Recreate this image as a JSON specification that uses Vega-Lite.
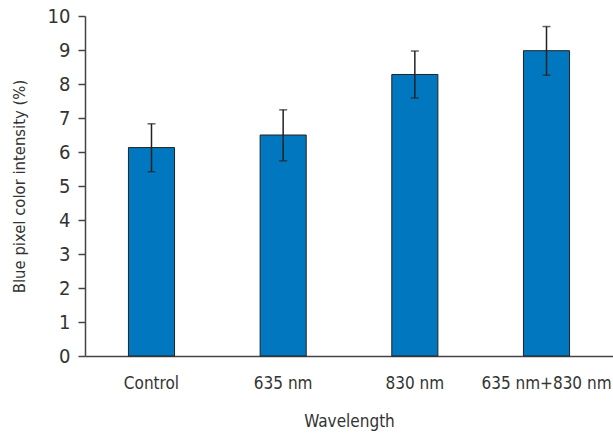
{
  "$schema": "https://vega.github.io/schema/vega-lite/v6.json",
  "width": 528,
  "height": 340,
  "autosize": {"type": "none"},
  "padding": {"left": 85, "top": 16, "right": 0, "bottom": 77},
  "background": "white",
  "config": {
    "view": {"stroke": null},
    "font": "DejaVu Sans Condensed",
    "axis": {"grid": false, "domainColor": "#444", "tickColor": "#444", "labelColor": "#333", "titleColor": "#333", "labelFont": "DejaVu Sans Condensed", "titleFont": "DejaVu Sans Condensed", "titleFontWeight": "normal", "domainWidth": 1.5},
    "axisY": {"tickCount": 10, "tickSize": 7, "tickWidth": 1.5, "labelFontSize": 20, "labelPadding": 8, "titleFontSize": 16.5, "titlePadding": 20, "labelOverlap": false},
    "axisX": {"ticks": false, "labelAngle": 0, "labelPadding": 19, "labelFontSize": 17, "titleFontSize": 17, "titlePadding": 22}
  },
  "data": {
    "values": [
      {"group": "Control", "mean": 6.13, "lo": 5.42, "hi": 6.83},
      {"group": "635 nm", "mean": 6.5, "lo": 5.74, "hi": 7.24},
      {"group": "830 nm", "mean": 8.28, "lo": 7.59, "hi": 8.97},
      {"group": "635 nm+830 nm", "mean": 8.98, "lo": 8.26, "hi": 9.69}
    ]
  },
  "encoding": {
    "x": {
      "field": "group", "type": "nominal", "sort": null,
      "scale": {"paddingInner": 0.65, "paddingOuter": 0.33},
      "title": "Wavelength"
    }
  },
  "layer": [
    {
      "mark": {"type": "bar", "color": "#0077BE", "stroke": "#222", "strokeWidth": 1},
      "encoding": {
        "y": {
          "field": "mean", "type": "quantitative",
          "scale": {"domain": [0, 10], "nice": false},
          "title": "Blue pixel color intensity (%)"
        }
      }
    },
    {
      "mark": {"type": "rule", "color": "#222", "strokeWidth": 1.5},
      "encoding": {"y": {"field": "lo", "type": "quantitative", "title": "Blue pixel color intensity (%)"}, "y2": {"field": "hi"}}
    },
    {
      "mark": {"type": "tick", "color": "#222", "thickness": 1.5, "size": 8},
      "encoding": {"y": {"field": "lo", "type": "quantitative", "title": "Blue pixel color intensity (%)"}}
    },
    {
      "mark": {"type": "tick", "color": "#222", "thickness": 1.5, "size": 8},
      "encoding": {"y": {"field": "hi", "type": "quantitative", "title": "Blue pixel color intensity (%)"}}
    }
  ]
}
